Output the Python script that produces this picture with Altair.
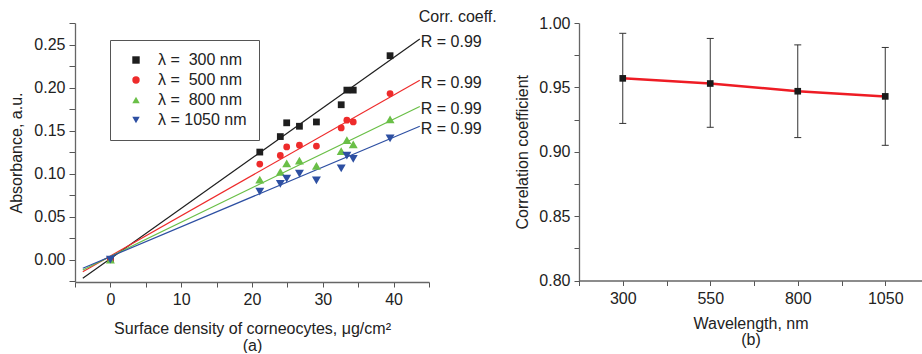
import altair as alt
import pandas as pd

FONT = "Liberation Sans"

# ---------------- panel (a) data ----------------
series = ["λ =\u00a0 300 nm", "λ =\u00a0 500 nm", "λ =\u00a0 800 nm", "λ = 1050 nm"]
colors = ["#1e1e1e", "#ee2b2b", "#6abf47", "#2d4fa2"]
shapes = ["square", "circle", "triangle-up", "triangle-down"]
marker_sizes = [46, 46, 80, 80]

density = [0.0, 21.1, 24.0, 24.9, 26.7, 29.1, 32.6, 33.4, 34.3, 39.5]
abs_300 = [0.000, 0.125, 0.143, 0.159, 0.155, 0.160, 0.180, 0.197, 0.197, 0.237]
abs_500 = [0.000, 0.111, 0.121, 0.131, 0.133, 0.132, 0.153, 0.162, 0.160, 0.193]
abs_800 = [0.000, 0.093, 0.102, 0.112, 0.115, 0.109, 0.126, 0.139, 0.134, 0.163]
abs_1050 = [0.000, 0.079, 0.088, 0.094, 0.100, 0.092, 0.106, 0.121, 0.117, 0.141]

# fitted lines (end points)
fit_x = [-3.9, 43.7]
fit_300 = [-0.0217, 0.2565]
fit_500 = [-0.0140, 0.2085]
fit_800 = [-0.0120, 0.1780]
fit_1050 = [-0.0100, 0.1550]
r_text = ["R = 0.99", "R = 0.99", "R = 0.99", "R = 0.99"]
r_header = "Corr. coeff."

# ---------------- panel (b) data ----------------
wavelength = [300, 550, 800, 1050]
corr = [0.957, 0.953, 0.947, 0.943]
corr_hi = [0.992, 0.988, 0.983, 0.981]
corr_lo = [0.922, 0.919, 0.911, 0.905]

# ---------------- tables ----------------
abs_all = [abs_300, abs_500, abs_800, abs_1050]
fit_all = [fit_300, fit_500, fit_800, fit_1050]

pts = pd.DataFrame(
    [
        {"x": d, "y": v, "s": s, "sz": sz}
        for s, vals, sz in zip(series, abs_all, marker_sizes)
        for d, v in zip(density, vals)
    ]
)
fits = pd.DataFrame(
    [{"x": fx, "y": fy, "s": s} for s, fv in zip(series, fit_all) for fx, fy in zip(fit_x, fv)]
)
rlab = pd.DataFrame(
    [{"x": fit_x[1], "y": fv[1], "t": t} for fv, t in zip(fit_all, r_text)]
)
rhead = pd.DataFrame([{"x": fit_x[1], "y": fit_300[1], "t": r_header}])

dfb = pd.DataFrame({"wl": wavelength, "r": corr, "lo": corr_lo, "hi": corr_hi})

# ---------------- panel (a) ----------------
xa = alt.X(
    "x:Q",
    scale=alt.Scale(domain=[-5, 45], nice=False, zero=False),
    axis=alt.Axis(
        values=[-5, 0, 5, 10, 15, 20, 25, 30, 35, 40, 45],
        labelExpr="datum.value % 10 == 0 && datum.value >= 0 ? datum.value : ''",
        title=["Surface density of corneocytes, μg/cm²", "(a)"],
        tickSize=5,
        labelPadding=4,
        titlePadding=13,
        titleLineHeight=17,
    ),
)
ya = alt.Y(
    "y:Q",
    scale=alt.Scale(domain=[-0.026, 0.275], nice=False, zero=False),
    axis=alt.Axis(
        values=[round(-0.025 + 0.025 * i, 3) for i in range(13)],
        labelExpr="abs(datum.value*20 - round(datum.value*20)) < 0.01 ? format(datum.value, '.2f') : ''",
        title="Absorbance, a.u.",
        tickSize=6,
        labelPadding=4,
        titlePadding=9,
    ),
)
cscale = alt.Scale(domain=series, range=colors)
sscale = alt.Scale(domain=series, range=shapes)

legend_a = alt.Legend(
    title=None,
    orient="none",
    legendX=35,
    legendY=17,
    padding=12,
    symbolOffset=6,
    labelOffset=14,
    rowPadding=4,
    symbolSize=55,
    labelFontSize=16,
    labelFont=FONT,
    labelColor="#222",
    strokeColor="#555",
    fillColor="white",
)

line_layers = [
    alt.Chart(fits)
    .transform_filter(alt.datum.s == s)
    .mark_line(strokeWidth=1.2, color=c)
    .encode(x=xa, y=ya)
    for s, c in zip(series, colors)
]
points_a = alt.Chart(pts).mark_point(filled=True, opacity=1).encode(
    x=xa,
    y=ya,
    color=alt.Color("s:N", scale=cscale, legend=legend_a),
    shape=alt.Shape("s:N", scale=sscale, legend=legend_a),
    size=alt.Size("sz:Q", scale=None),
)
rtext_a = alt.Chart(rlab).mark_text(
    align="left", baseline="middle", dx=1, dy=3, fontSize=16, font=FONT, color="#222"
).encode(x=xa, y=ya, text="t:N")
rhead_a = alt.Chart(rhead).mark_text(
    align="left", baseline="middle", dx=-1, dy=-22, fontSize=16, font=FONT, color="#222"
).encode(x=xa, y=ya, text="t:N")

left = alt.layer(*line_layers, points_a, rtext_a, rhead_a).properties(width=354, height=259)

# ---------------- panel (b) ----------------
xb = alt.X(
    "wl:Q",
    scale=alt.Scale(domain=[175, 1155], nice=False, zero=False),
    axis=alt.Axis(
        values=[175, 300, 425, 550, 675, 800, 925, 1050],
        labelExpr="(datum.value - 300) % 250 == 0 ? datum.value : ''",
        title=["Wavelength, nm", "(b)"],
        tickSize=5,
        labelPadding=5,
        titlePadding=9,
        titleLineHeight=16,
    ),
)
yb_axis = alt.Axis(
    values=[round(0.8 + 0.025 * i, 3) for i in range(9)],
    labelExpr="abs(datum.value*20 - round(datum.value*20)) < 0.01 ? format(datum.value, '.2f') : ''",
    title="Correlation coefficient",
    tickSize=5,
    labelPadding=4,
    titlePadding=8,
)
yscale_b = alt.Scale(domain=[0.8, 1.0], nice=False, zero=False)

line_b = alt.Chart(dfb).mark_line(color="#ee1c24", strokeWidth=2.5).encode(
    x=xb, y=alt.Y("r:Q", scale=yscale_b, axis=yb_axis)
)
err_b = alt.Chart(dfb).mark_rule(color="#333", strokeWidth=1).encode(
    x=xb, y=alt.Y("lo:Q", scale=yscale_b, axis=yb_axis), y2="hi:Q"
)
cap_hi = alt.Chart(dfb).mark_rule(color="#333", strokeWidth=1, xOffset=-3.5, x2Offset=3.5).encode(
    x=xb, x2="wl:Q", y=alt.Y("hi:Q", scale=yscale_b, axis=yb_axis)
)
cap_lo = alt.Chart(dfb).mark_rule(color="#333", strokeWidth=1, xOffset=-3.5, x2Offset=3.5).encode(
    x=xb, x2="wl:Q", y=alt.Y("lo:Q", scale=yscale_b, axis=yb_axis)
)
pts_b = alt.Chart(dfb).mark_point(shape="square", filled=True, size=44, color="#1a1a1a", opacity=1).encode(
    x=xb, y=alt.Y("r:Q", scale=yscale_b, axis=yb_axis)
)
right = alt.layer(line_b, err_b, cap_hi, cap_lo, pts_b).properties(width=343, height=257.5)

chart = (
    alt.hconcat(left, right, spacing=150, bounds="flush")
    .properties(padding={"left": 8, "top": 8, "right": 0, "bottom": 0})
    .configure_view(stroke=None)
    .configure_axis(
        grid=False,
        domainColor="#666",
        domainWidth=1.3,
        tickColor="#555",
        tickWidth=1,
        labelFont=FONT,
        labelFontSize=16,
        labelColor="#222",
        titleFont=FONT,
        titleFontSize=16,
        titleFontWeight="normal",
        titleColor="#222",
    )
    .configure_legend(strokeWidth=1)
)

chart.save("out.html", embed_options={"renderer": "svg", "actions": False})
